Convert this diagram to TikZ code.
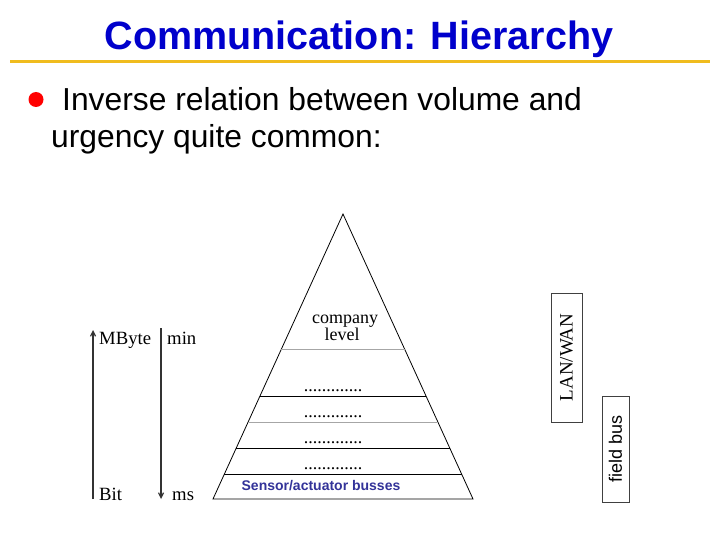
\documentclass[tikz,border=0pt]{standalone}
\usepackage{fontspec}
\setmainfont{Liberation Serif}
\newfontfamily\arialfam{Liberation Sans}
\usetikzlibrary{arrows.meta,calc}
\definecolor{titleblue}{RGB}{0,0,204}
\definecolor{rulegold}{RGB}{240,188,30}
\definecolor{sensorblue}{RGB}{51,51,153}
\begin{document}
\begin{tikzpicture}[x=1pt,y=-1pt,
  serif18/.style={font=\fontsize{18}{20}\selectfont, inner sep=0pt},
  axislabel/.style={font=\fontsize{18.7}{20}\selectfont, inner sep=0pt, anchor=base west},
  dotsnode/.style={serif18, anchor=base},
  layerblack/.style={draw=black, line width=0.8pt},
  layergray/.style={draw=gray!70, line width=0.8pt},
  axisarrow/.style={draw=black!80, line width=1.2pt, -{Straight Barb[length=5pt,width=5pt]}},
  sidebox/.style={draw=black!75, line width=0.9pt, rotate=90, inner sep=0pt}]
\useasboundingbox (0,0) rectangle (720,540);
\fill[white] (0,0) rectangle (720,540);
% title
\node[anchor=base, inner sep=0pt, text=titleblue, font=\arialfam\bfseries\fontsize{39.5}{44}\selectfont] (title) at (359,49.5) {Communication: Hierarchy};
\draw[rulegold, line width=3pt] (10,62) coordinate (r1) -- (710,62) coordinate (r2);
% bullet
\fill[red] (36,99.5) circle (7.5);
\node[anchor=base west, inner sep=0pt, font=\arialfam\fontsize{31.8}{36}\selectfont] (b1) at (62,111) {Inverse relation between volume and};
\node[anchor=base west, inner sep=0pt, font=\arialfam\fontsize{31.8}{36}\selectfont] (b2) at (51,148) {urgency quite common:};
% pyramid
\coordinate (apex) at (343,214);
\coordinate (bl) at (213,499);
\coordinate (br) at (473,499);
\draw[line width=0.8pt] (apex) -- (bl) -- (br) -- cycle;
\draw[layergray]  ($(apex)!0.4737!(bl)$) -- ($(apex)!0.4737!(br)$);
\draw[layerblack] ($(apex)!0.6386!(bl)$) -- ($(apex)!0.6386!(br)$);
\draw[layergray]  ($(apex)!0.7298!(bl)$) -- ($(apex)!0.7298!(br)$);
\draw[layerblack] ($(apex)!0.8211!(bl)$) -- ($(apex)!0.8211!(br)$);
\draw[layerblack] ($(apex)!0.9123!(bl)$) -- ($(apex)!0.9123!(br)$);
\node[serif18, anchor=base] (company) at (345,323) {company};
\node[serif18, anchor=base] (level) at (342,340) {level};
\node[dotsnode] (d1) at (333,391) {.............};
\node[dotsnode] (d2) at (333,417) {.............};
\node[dotsnode] (d3) at (333,443) {.............};
\node[dotsnode] (d4) at (333,469) {.............};
\node[anchor=base, inner sep=0pt, text=sensorblue, font=\arialfam\bfseries\fontsize{14}{16}\selectfont] (sensor) at (321,490) {Sensor/actuator busses};
% axes
\node[axislabel] (mbyte) at (99,344) {MByte};
\node[axislabel] (bit) at (99,500) {Bit};
\node[axislabel] (min) at (167,344) {min};
\node[axislabel] (ms) at (172,500) {ms};
\coordinate (upfrom) at (93,499);
\coordinate (upto) at (93,330);
\coordinate (downfrom) at (161,328);
\coordinate (downto) at (161,499);
\draw[axisarrow] (upfrom) -- (upto);
\draw[axisarrow] (downfrom) -- (downto);
% side boxes
\node[sidebox, minimum width=129pt, minimum height=31pt, font=\fontsize{19}{21}\selectfont] (lan) at (566.5,357.5) {LAN/WAN};
\node[sidebox, minimum width=106pt, minimum height=27pt, font=\arialfam\fontsize{18}{20}\selectfont] (field) at (615.5,449) {field bus};
\end{tikzpicture}
\end{document}
